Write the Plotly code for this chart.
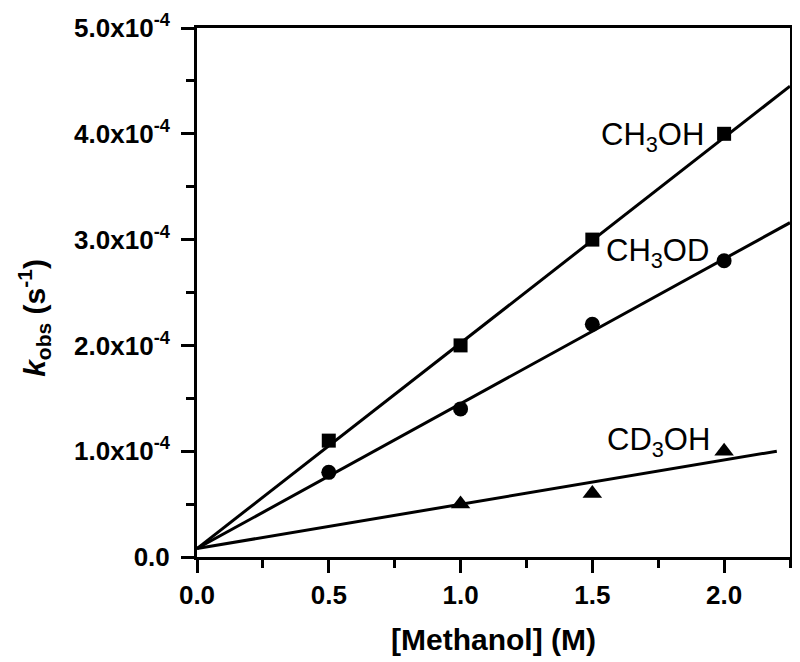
import plotly.graph_objects as go

# data
conc = [0.5, 1.0, 1.5, 2.0]
ch3oh = [1.1e-4, 2.0e-4, 3.0e-4, 4.0e-4]
ch3od = [0.8e-4, 1.4e-4, 2.2e-4, 2.8e-4]
conc_cd3oh = [1.0, 1.5, 2.0]
cd3oh = [0.5e-4, 0.6e-4, 1.0e-4]

# fitted lines (endpoints)
fit_x = [0.0, 2.25]
ch3oh_fit = [0.08e-4, 4.45e-4]
ch3od_fit = [0.08e-4, 3.16e-4]
fit_x_cd3oh = [0.0, 2.2]
cd3oh_fit = [0.08e-4, 1.0e-4]

y_tickvals = [0, 1e-4, 2e-4, 3e-4, 4e-4, 5e-4]
y_ticktext = ["0.0", "1.0x10<sup>-4</sup>", "2.0x10<sup>-4</sup>", "3.0x10<sup>-4</sup>",
              "4.0x10<sup>-4</sup>", "5.0x10<sup>-4</sup>"]
x_tickvals = [0.0, 0.5, 1.0, 1.5, 2.0]
x_ticktext = ["0.0", "0.5", "1.0", "1.5", "2.0"]

FONT = "Liberation Sans, Arial, sans-serif"
line_style = dict(color="black", width=3)

fig = go.Figure()
fig.add_trace(go.Scatter(x=fit_x, y=ch3oh_fit, mode="lines", line=line_style, showlegend=False))
fig.add_trace(go.Scatter(x=fit_x, y=ch3od_fit, mode="lines", line=line_style, showlegend=False))
fig.add_trace(go.Scatter(x=fit_x_cd3oh, y=cd3oh_fit, mode="lines", line=line_style, showlegend=False))
fig.add_trace(go.Scatter(x=conc, y=ch3oh, mode="markers",
                         marker=dict(symbol="square", size=14, color="black"), showlegend=False))
fig.add_trace(go.Scatter(x=conc, y=ch3od, mode="markers",
                         marker=dict(symbol="circle", size=15, color="black"), showlegend=False))
fig.add_trace(go.Scatter(x=conc_cd3oh, y=cd3oh, mode="markers",
                         marker=dict(symbol="triangle-up", size=17, color="black"), showlegend=False))

ann_font = dict(family=FONT, size=31, color="black")
fig.add_annotation(x=1.527, y=3.97e-4, text="CH<sub>3</sub>OH", showarrow=False,
                   xanchor="left", yanchor="middle", font=ann_font)
fig.add_annotation(x=1.543, y=2.87e-4, text="CH<sub>3</sub>OD", showarrow=False,
                   xanchor="left", yanchor="middle", font=ann_font)
fig.add_annotation(x=1.547, y=1.087e-4, text="CD<sub>3</sub>OH", showarrow=False,
                   xanchor="left", yanchor="middle", font=ann_font)

# y-axis title
fig.add_annotation(xref="paper", yref="paper", x=-0.275, y=0.452,
                   text="<b><i>k</i><sub>obs</sub> (s<sup>-1</sup>)</b>", textangle=-90,
                   showarrow=False, xanchor="center", yanchor="middle",
                   font=dict(family=FONT, size=30, color="black"))

axis_common = dict(showline=True, linecolor="black", linewidth=3, mirror=True,
                   ticks="outside", tickcolor="black", tickwidth=3, ticklen=13,
                   showgrid=False, zeroline=False,
                   tickfont=dict(family=FONT, size=26, color="black", weight="bold"))

fig.update_xaxes(range=[0, 2.25], tickvals=x_tickvals, ticktext=x_ticktext,
                 minor=dict(ticks="outside", dtick=0.25, tick0=0, ticklen=8, tickwidth=3,
                            tickcolor="black", showgrid=False),
                 title=dict(text="<b>[Methanol] (M)</b>", standoff=20,
                            font=dict(family=FONT, size=30, color="black")),
                 **axis_common)
fig.update_yaxes(range=[0, 5e-4], tickvals=y_tickvals, ticktext=y_ticktext,
                 ticklabelstandoff=6,
                 minor=dict(ticks="outside", dtick=0.5e-4, tick0=0, ticklen=8, tickwidth=3,
                            tickcolor="black", showgrid=False),
                 **axis_common)

# page body has an 8px margin, so the figure is drawn 8px smaller and shifted
fig.update_layout(width=792, height=654, plot_bgcolor="white", paper_bgcolor="white",
                  margin=dict(l=189, r=10, t=20, b=104.5, autoexpand=False),
                  font=dict(family=FONT, color="black"))

fig.write_html("out.html")
